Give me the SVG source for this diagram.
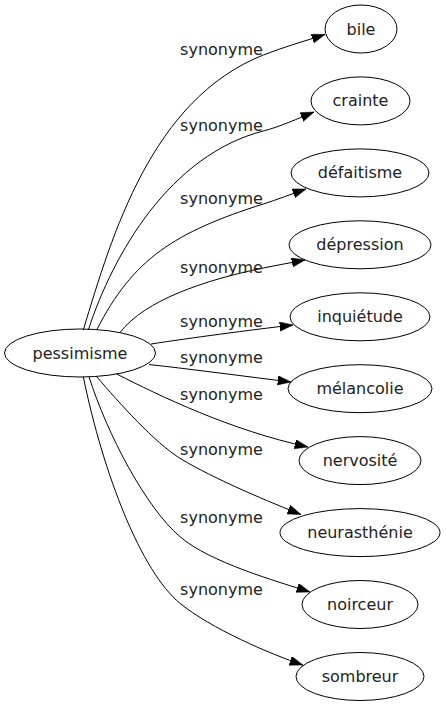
<svg xmlns="http://www.w3.org/2000/svg" width="446" height="707" viewBox="0 0 446 707">
<defs>
<style>
.n ellipse{fill:none;stroke:#000;stroke-width:1}
text{font-family:"DejaVu Sans","Liberation Sans",sans-serif;font-size:16px;fill:#222;text-anchor:middle}
.e path{fill:none;stroke:#000;stroke-width:1}
</style>
<marker id="ah" markerUnits="userSpaceOnUse" markerWidth="14" markerHeight="10" refX="13.3" refY="4.67" orient="auto">
<path d="M0,0 L13.3,4.67 L0,9.33 z" fill="#000" stroke="#000" stroke-width="0.5"/>
</marker>
</defs>
<rect width="446" height="707" fill="#fff"/>
<g class="e" id="edges">
<path marker-end="url(#ah)" d="M83.3,330 C112.3,234 151.7,99.4 263.3,55 C281.9,47.6 306,40.7 325,34.5"/>
<path marker-end="url(#ah)" d="M88.3,330 C113.1,254 170,155 263.3,131 C279.8,126.8 298,118.5 314,112"/>
<path marker-end="url(#ah)" d="M96.7,330 C132.7,258.8 175,232 263.3,204 C276.6,199.8 293,193.5 306,189"/>
<path marker-end="url(#ah)" d="M120,332.5 C145,300 205,280 263.3,268 C278,265 292,262.5 305,260"/>
<path marker-end="url(#ah)" d="M151,344 C190,338 250,330 293,325"/>
<path marker-end="url(#ah)" d="M149,364.5 C190,369 250,377 291,382"/>
<path marker-end="url(#ah)" d="M116.7,374 C160,396 230,430 308,447"/>
<path marker-end="url(#ah)" d="M96.7,376.7 C119.5,403.3 154.5,442.4 180,458.3 C214,479.2 273.1,503.4 301,514.5"/>
<path marker-end="url(#ah)" d="M89,376.7 C107,433.7 145.8,507.5 180,536.7 C210.4,562.7 276.8,581.2 310,592"/>
<path marker-end="url(#ah)" d="M83.3,376.7 C103.3,474.7 141.5,571.8 180,603.3 C210.8,628.5 270,654 303,665"/>
</g>
<g id="edge-labels">
<text x="221.5" y="55">synonyme</text>
<text x="221.5" y="131">synonyme</text>
<text x="221.5" y="203.5">synonyme</text>
<text x="221.5" y="273">synonyme</text>
<text x="221.5" y="326.5">synonyme</text>
<text x="221.5" y="362.5">synonyme</text>
<text x="221.5" y="400">synonyme</text>
<text x="221.5" y="455">synonyme</text>
<text x="221.5" y="522.5">synonyme</text>
<text x="221.5" y="595">synonyme</text>
</g>
<g class="n" id="pessimisme"><ellipse cx="80" cy="353" rx="75.5" ry="24"/><text x="80" y="358.5">pessimisme</text></g>
<g class="n" id="bile"><ellipse cx="361" cy="29" rx="36" ry="24"/><text x="361" y="34.5">bile</text></g>
<g class="n" id="crainte"><ellipse cx="360.5" cy="100.9" rx="49.5" ry="24"/><text x="360.5" y="106.4">crainte</text></g>
<g class="n" id="defaitisme"><ellipse cx="360" cy="172.9" rx="69" ry="24"/><text x="360" y="178.4">défaitisme</text></g>
<g class="n" id="depression"><ellipse cx="360" cy="244.8" rx="71" ry="24"/><text x="360" y="250.3">dépression</text></g>
<g class="n" id="inquietude"><ellipse cx="360" cy="316.8" rx="70" ry="24"/><text x="360" y="322.3">inquiétude</text></g>
<g class="n" id="melancolie"><ellipse cx="360" cy="388.7" rx="72" ry="24"/><text x="360" y="394.2">mélancolie</text></g>
<g class="n" id="nervosite"><ellipse cx="360" cy="460.6" rx="61" ry="24"/><text x="360" y="466.1">nervosité</text></g>
<g class="n" id="neurasthenie"><ellipse cx="360" cy="532.6" rx="80" ry="24"/><text x="360" y="538.1">neurasthénie</text></g>
<g class="n" id="noirceur"><ellipse cx="360" cy="604.5" rx="58" ry="24"/><text x="360" y="610">noirceur</text></g>
<g class="n" id="sombreur"><ellipse cx="360" cy="676.5" rx="64" ry="24"/><text x="360" y="682">sombreur</text></g>
</svg>
